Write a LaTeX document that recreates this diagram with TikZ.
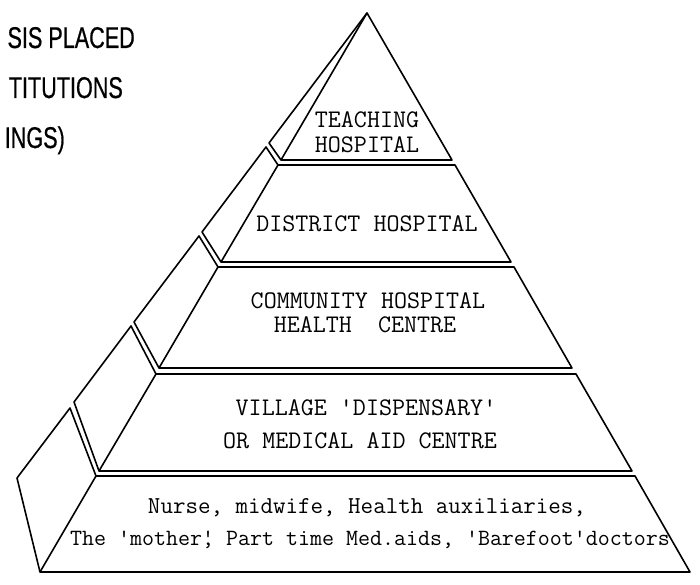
\documentclass[tikz,border=0pt]{standalone}
\usepackage{fontspec}
\newfontfamily\headfont[FakeStretch=0.72, FakeBold=0.6]{Liberation Sans}

\begin{document}
\begin{tikzpicture}[x = 1pt, y = -1pt,
    face/.style = {draw, line width = 1.6pt, line join = round},
    lbl/.style = {anchor = base, inner sep = 0pt, font = \ttfamily\fontsize{25.3}{29}\selectfont},
    head/.style = {anchor = base east, inner sep = 0pt, font = \headfont\fontsize{30}{36}\selectfont}]
    \useasboundingbox (0,0) rectangle (700,585);
    \clip (0,0) rectangle (700,585);

    \begin{scope}
        \node[head] (head1) at (135,48) {SIS PLACED};
        \node[head] (head2) at (123,98) {TITUTIONS};
        \node[head] (head3) at (65,148) {INGS)};
    \end{scope}

    \begin{scope}
        % front of the layers
        \draw[face] (367,13) -- (281,160) -- (452,160) -- cycle;
        \draw[face] (278,165) -- (221,262) -- (511,262) -- (455,165) -- cycle;
        \draw[face] (218,267) -- (159,368) -- (572,368) -- (514,267) -- cycle;
        \draw[face] (156,374) -- (99,471) -- (632,471) -- (576,374) -- cycle;
        \draw[face] (96,476) -- (40,572) -- (690,572) -- (635,476) -- cycle;

        % left side of the layers
        \draw[face] (281,160) -- (269,143) -- (367,13);
        \draw[face] (221,262) -- (202,232) -- (266,147) -- (278,165);
        \draw[face] (159,368) -- (134,322) -- (199,236) -- (218,267);
        \draw[face] (99,471) -- (74,402) -- (131,326) -- (156,374);
        \draw[face] (40,572) -- (17,478) -- (70,408) -- (96,476);

        \node[lbl] (teach1) at (367,128) {TEACHING};
        \node[lbl] (teach2) at (367,153) {HOSPITAL};
        \node[lbl] (district) at (367,231) {DISTRICT HOSPITAL};
        \node[lbl] (comm1) at (368,308) {COMMUNITY HOSPITAL};
        \node[lbl] (comm2) at (365,332) {HEALTH\ \ CENTRE};
        \node[lbl] (vill1) at (366,415) {VILLAGE 'DISPENSARY'};
        \node[lbl] (vill2) at (360,448) {OR MEDICAL AID CENTRE};
        \node[lbl, font = \ttfamily\fontsize{24.3}{28}\selectfont] (base1) at (367,513) {Nurse, midwife, Health auxiliaries,};
        \node[lbl, font = \ttfamily\fontsize{23.3}{27}\selectfont] (base2) at (370,545) {The 'mother\rlap{'}, Part time Med.aids, 'Barefoot'doctors};
    \end{scope}

\end{tikzpicture}
\end{document}
